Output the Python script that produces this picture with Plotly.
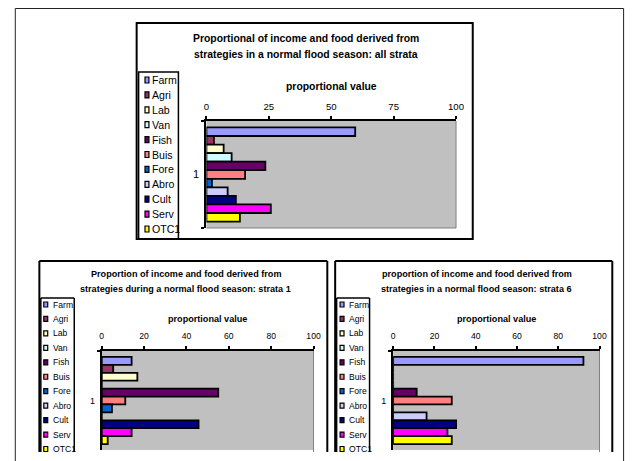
import plotly.graph_objects as go

W, H = 637, 461

# ---------------- data ----------------
series = ["Farm", "Agri", "Lab", "Van", "Fish", "Buis", "Fore", "Abro", "Cult", "Serv", "OTC1"]
colors = ["#9999FF", "#993366", "#FFFFCC", "#CCFFFF", "#660066", "#FF8080",
          "#0066CC", "#CCCCFF", "#000080", "#FF00FF", "#FFFF00"]
category = ["1"]

all_strata = [59.6, 3.0, 6.9, 10.1, 23.6, 15.5, 2.2, 8.5, 11.8, 25.8, 13.4]
strata1 = [14.1, 5.4, 16.8, 0, 55.0, 11.1, 4.8, 0, 45.7, 14.1, 2.8]
strata6 = [92.2, 0, 0, 0, 11.4, 28.4, 0, 16.2, 30.5, 26.3, 28.4]

ticks_all = [0, 25, 50, 75, 100]
ticks_strata = [0, 20, 40, 60, 80, 100]

title_all = ["Proportional of income and food derived from",
             "strategies in a normal flood season: all strata"]
title_s1 = ["Proportion of income and food derived from",
            "strategies during a normal flood season: strata 1"]
title_s6 = ["proportion of income and food derived from",
            "strategies in a normal flood season: strata 6"]
axis_title = "proportional value"

FONT = "Liberation Sans, Arial, sans-serif"


def px(x):
    return x / W


def py(y):
    return 1 - y / H


# ---------------- panel layout (pixels) ----------------
panels = [
    dict(values=all_strata, ticks=ticks_all, title=title_all,
         box=(136, 23, 478, 239), legbox=(138, 72, 178.5, 239),
         plot=(207, 121, 461, 228), title_x=308, title_y=(38.5, 54.5), title_size=10.4,
         axt_y=86, tick_size=9.6, cat_size=11, leg_size=10.6, tick_standoff=2,
         leg_first=80, leg_step=14.9, leg_mark_x=146.5, leg_text_x=150, mark=(4, 6),
         bottom_border=True),
    dict(values=strata1, ticks=ticks_strata, title=title_s1,
         box=(37, 261, 330, None), legbox=(38.5, 298, 72.5, None),
         plot=(100.5, 351, 316, 450), title_x=186, title_y=(274, 288.5), title_size=9.1,
         axt_y=318.5, tick_size=8.6, cat_size=9, leg_size=8.6, tick_standoff=4,
         leg_first=304.5, leg_step=14.45, leg_mark_x=43.5, leg_text_x=48.5, mark=(4, 5),
         bottom_border=False),
    dict(values=strata6, ticks=ticks_strata, title=title_s6,
         box=(338, 261, 620, None), legbox=(339.5, 298, 373, None),
         plot=(397, 351, 607, 450), title_x=482, title_y=(274, 288.5), title_size=9.1,
         axt_y=318.5, tick_size=8.6, cat_size=9, leg_size=8.6, tick_standoff=4,
         leg_first=304.5, leg_step=14.45, leg_mark_x=345, leg_text_x=350, mark=(4, 5),
         bottom_border=False),
]

fig = go.Figure()
shapes = []
annotations = []

# outer page frame
shapes.append(dict(type="rect", xref="paper", yref="paper",
                   x0=px(12.5), x1=px(631.5), y0=py(8.5), y1=py(480),
                   line=dict(color="#222222", width=1), fillcolor="rgba(0,0,0,0)"))

for i, p in enumerate(panels):
    n = "" if i == 0 else str(i + 1)
    xa, ya = "x" + n, "y" + n
    x0, y0, x1, y1 = p["plot"]

    for s, c, v in zip(series, colors, p["values"]):
        fig.add_trace(go.Bar(
            x=[v], y=category, orientation="h", name=s,
            marker=dict(color=c, line=dict(color="black", width=1.8)),
            xaxis=xa, yaxis=ya, showlegend=False, hoverinfo="x+name"))

    fig.layout["xaxis" + n] = dict(
        domain=[px(x0), px(x1)], anchor=ya, side="top", range=[0, 100],
        tickmode="array", tickvals=p["ticks"], ticks="outside", ticklen=3,
        tickwidth=1.5, tickcolor="black", showline=True, linecolor="black",
        linewidth=2, showgrid=False, zeroline=False, fixedrange=True,
        tickfont=dict(family=FONT, size=p["tick_size"], color="black"),
        ticklabelstandoff=p["tick_standoff"])
    fig.layout["yaxis" + n] = dict(
        domain=[py(y1), py(y0)], anchor=xa, type="category", autorange="reversed",
        tickson="boundaries", ticks="outside", ticklen=3, tickwidth=1.5,
        tickcolor="black", showline=True, linecolor="black", linewidth=2,
        showgrid=False, zeroline=False, fixedrange=True,
        tickfont=dict(family=FONT, size=p["cat_size"], color="black"),
        ticklabelstandoff=3)

    # plot area grey border (right / bottom)
    shapes.append(dict(type="line", xref="paper", yref="paper",
                       x0=px(x1), x1=px(x1), y0=py(y0), y1=py(y1 if p["bottom_border"] else 452),
                       line=dict(color="#808080", width=1)))
    if p["bottom_border"]:
        shapes.append(dict(type="line", xref="paper", yref="paper",
                           x0=px(x0), x1=px(x1), y0=py(y1), y1=py(y1),
                           line=dict(color="#808080", width=1)))

    # chart box
    bx0, by0, bx1, by1 = p["box"]
    if by1 is not None:
        shapes.append(dict(type="rect", xref="paper", yref="paper",
                           x0=px(bx0), x1=px(bx1), y0=py(by0), y1=py(by1),
                           line=dict(color="black", width=2), fillcolor="rgba(0,0,0,0)"))
    else:
        for seg in [((bx0, by0), (bx1, by0)), ((bx0, by0), (bx0, 452)), ((bx1, by0), (bx1, 452))]:
            shapes.append(dict(type="line", xref="paper", yref="paper",
                               x0=px(seg[0][0]), y0=py(seg[0][1]),
                               x1=px(seg[1][0]), y1=py(seg[1][1]),
                               line=dict(color="black", width=2)))

    # legend box
    lx0, ly0, lx1, ly1 = p["legbox"]
    if ly1 is not None:
        shapes.append(dict(type="rect", xref="paper", yref="paper",
                           x0=px(lx0), x1=px(lx1), y0=py(ly0), y1=py(ly1),
                           line=dict(color="black", width=1.5), fillcolor="rgba(0,0,0,0)"))
    else:
        for seg in [((lx0, ly0), (lx1, ly0)), ((lx0, ly0), (lx0, 452)), ((lx1, ly0), (lx1, 452))]:
            shapes.append(dict(type="line", xref="paper", yref="paper",
                               x0=px(seg[0][0]), y0=py(seg[0][1]),
                               x1=px(seg[1][0]), y1=py(seg[1][1]),
                               line=dict(color="black", width=1.5)))

    # legend entries
    mw, mh = p["mark"]
    for k, (s, c) in enumerate(zip(series, colors)):
        cy = p["leg_first"] + k * p["leg_step"]
        mx = p["leg_mark_x"]
        shapes.append(dict(type="rect", xref="paper", yref="paper",
                           x0=px(mx - mw / 2), x1=px(mx + mw / 2),
                           y0=py(cy - mh / 2), y1=py(cy + mh / 2),
                           line=dict(color="black", width=1.2), fillcolor=c))
        annotations.append(dict(xref="paper", yref="paper", x=px(p["leg_text_x"]), y=py(cy),
                                xanchor="left", yanchor="middle", showarrow=False, text=s,
                                font=dict(family=FONT, size=p["leg_size"], color="black")))

    # chart title (two lines)
    for line_text, ty in zip(p["title"], p["title_y"]):
        annotations.append(dict(xref="paper", yref="paper", x=px(p["title_x"]), y=py(ty),
                                xanchor="center", yanchor="middle", showarrow=False,
                                text="<b>" + line_text + "</b>",
                                font=dict(family=FONT, size=p["title_size"], color="black")))
    # axis title
    annotations.append(dict(xref="paper", yref="paper", x=px((x0 + x1) / 2), y=py(p["axt_y"]),
                            xanchor="center", yanchor="middle", showarrow=False,
                            text="<b>" + axis_title + "</b>",
                            font=dict(family=FONT, size=p["title_size"], color="black")))

fig.update_layout(
    width=W, height=H, margin=dict(l=0, r=0, t=0, b=0),
    paper_bgcolor="white", plot_bgcolor="#C0C0C0",
    barmode="group", bargap=0.12, bargroupgap=0,
    shapes=shapes, annotations=annotations, showlegend=False,
    font=dict(family=FONT, color="black"),
)

fig.write_html("out.html")
